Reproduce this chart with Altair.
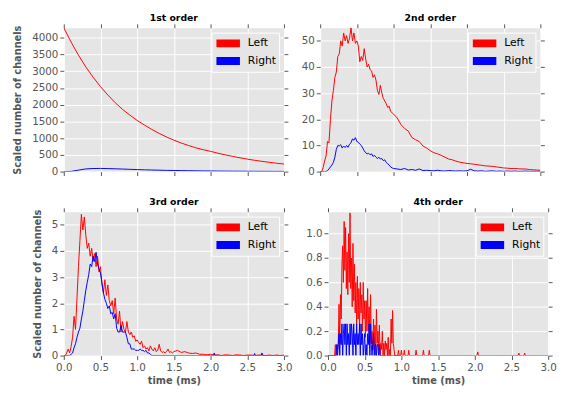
import altair as alt
import pandas as pd

# ---------------- data ----------------
SERIES = ["Left", "Right"]
COLORS = ["#FF0000", "#0000FF"]
X_TICKS = [0.0, 0.5, 1.0, 1.5, 2.0, 2.5, 3.0]

# 1st order, t = 0.0 .. 3.0 step 0.1
R1 = [4300, 3870, 3480, 3130, 2820, 2540, 2290, 2060, 1860, 1690, 1530, 1390, 1260, 1140,
      1035, 940, 855, 780, 710, 655, 605, 550, 500, 455, 412, 373, 338, 306, 277, 250, 226]
B1 = [0, 5, 45, 80, 92, 95, 90, 84, 76, 68, 60, 53, 47, 42, 37, 33, 29, 26, 23, 20, 18,
      16, 14, 12, 11, 10, 9, 8, 7, 6, 5]

# 2nd order: A = 0.00..0.98 step 0.02, B = 1.00..3.00 step 0.05
R2_A = [0, 0, 1.5, 4, 6, 11.5, 11, 20, 27, 31, 36, 38, 44, 45, 50, 48, 53, 50, 52, 49,
        51, 55, 50, 53, 49, 50, 48, 42, 44, 42.5, 47, 43, 40, 41, 39, 38.5, 36, 37, 35, 31,
        29.5, 33, 30, 28, 27, 26, 24.5, 25, 23, 22.5]
R2_B = [22, 20.5, 18, 16.5, 15.5, 13, 12.2, 11.5, 9.8, 9, 8, 7.2, 6.8, 6.2, 5.5, 4.8, 4.5,
        4, 3.6, 3.4, 3.1, 3, 2.8, 2.6, 2.4, 2.2, 2.1, 2, 1.8, 1.6, 1.4, 1.3, 1.2, 1.2, 1.1,
        1.0, 1.0, 0.8, 0.7, 0.6, 0.5]
B2_A = [0, 0, 0, 0, 0, 0.4, 1, 1.8, 2.5, 3.5, 5.5, 8.5, 10, 9.8, 10.3, 9, 9.8, 9.2, 10, 9.3,
        10.5, 11, 12.5, 12, 13, 11.5, 11.2, 10.5, 10, 9, 8, 7.2, 6.8, 7, 6.4, 6.8, 5.8, 6.2,
        5.5, 5, 5.5, 4.8, 5, 4.2, 4.5, 3.5, 3, 2.5, 1.8, 1.4]
B2_B = [1.2, 1.0, 0.8, 1.2, 0.6, 0.8, 0.5, 1.0, 0.4, 0.5, 0.4, 0.3, 0.5, 0.3, 0.2, 0.4, 0.3,
        0.2, 0.3, 0.2, 0.3, 0.9, 0.3, 0.2, 0.3, 0.1, 0.2, 0.3, 0.1, 0.2, 0.1, 0.2, 0.1, 0.2,
        0.1, 0.1, 0.2, 0.1, 0.1, 0.1, 0.1]

# 3rd order: A = 0.00..1.48 step 0.02, B = 1.50..3.00 step 0.05
R3_A = [0, 0, 0.1, 0.25, 0.1, 0.35, 0.7, 1.5, 1.0, 2.2, 3.4, 4.4, 5.4, 4.8, 5.3, 4.6, 4.1,
        4.3, 3.8, 4.1, 3.6, 3.9, 3.4, 3.8, 3.2, 3.4, 2.7, 2.4, 2.9, 2.3, 2.7, 2.1, 1.9, 2.1,
        1.6, 2.2, 1.4, 1.2, 1.7, 0.9, 1.3, 1.0, 0.9, 1.3, 0.9, 0.8, 0.9, 0.7, 0.75, 0.55,
        0.6, 0.5, 0.43, 0.55, 0.3, 0.37, 0.25, 0.3, 0.18, 0.37, 0.25, 0.18, 0.3, 0.15, 0.2,
        0.43, 0.18, 0.12, 0.15, 0.1, 0.15, 0.25, 0.12, 0.15, 0.1]
R3_B = [0.15, 0.2, 0.12, 0.15, 0.1, 0.08, 0.1, 0.05, 0.05, 0.03, 0.05, 0.02, 0.03, 0, 0.03,
        0.02, 0, 0.03, 0.02, 0, 0.02, 0.02, 0, 0.02, 0.02, 0, 0.02, 0, 0.02, 0, 0.02]
B3_A = [0, 0, 0, 0, 0, 0.05, 0.1, 0.3, 0.45, 0.7, 0.9, 1.05, 1.4, 1.7, 2.1, 2.5, 2.8, 3.1,
        3.5, 3.4, 3.8, 3.6, 3.95, 3.5, 3.3, 3.15, 2.8, 2.4, 2.15, 2.0, 1.8, 1.9, 1.6, 1.65,
        1.4, 1.6, 1.05, 0.9, 0.9, 1.15, 0.9, 0.9, 0.9, 0.7, 0.45, 0.45, 0.25, 0.25, 0.25,
        0.2, 0.2, 0.2, 0.25, 0.2, 0.2, 0.15, 0.2, 0.1, 0.1, 0.05, 0, 0, 0, 0, 0, 0, 0, 0,
        0, 0, 0, 0, 0, 0, 0]
B3_TAIL_SPIKES = {2.05: 0.1, 2.6: 0.08, 2.7: 0.1}

# 4th order: A = 0.00..0.99 step 0.01, tail 1.00..3.00 step 0.01 (spikes only)
R4_A = [0, 0, 0, 0, 0, 0, 0, 0, 0, 0,
        0.09, 0, 0.09, 0.05, 0.1, 0.42, 0.1, 0.5, 0.3, 0.75,
        0.9, 0.6, 1.1, 0.7, 1.05, 0.55, 0.85, 0.5, 1.0, 0.6,
        1.17, 0.55, 0.8, 0.4, 0.92, 0.45, 0.75, 0.35, 0.6, 0.25,
        0.65, 0.3, 0.55, 0.2, 0.6, 0.35, 0.5, 0.2, 0.6, 0.3,
        0.45, 0.15, 0.45, 0.2, 0.55, 0.2, 0.4, 0.1, 0.5, 0.1,
        0.2, 0.05, 0.3, 0.05, 0.25, 0, 0.38, 0.1, 0.2, 0.05,
        0.25, 0, 0.1, 0.05, 0.2, 0, 0.1, 0, 0.12, 0.05,
        0.1, 0, 0.15, 0, 0.05, 0, 0.3, 0.1, 0.37, 0.1,
        0.05, 0, 0, 0, 0, 0, 0.044, 0, 0, 0]
R4_TAIL_SPIKES = {1.0: 0.044, 1.04: 0.044, 1.1: 0.044, 1.2: 0.044, 1.3: 0.044,
                  1.38: 0.044, 2.04: 0.03, 2.6: 0.02, 2.68: 0.02}
B4_A = [0] * 12 + [
        0.09, 0, 0.09, 0.18, 0, 0.18, 0.09, 0.26, 0, 0.18,
        0.26, 0.09, 0.26, 0, 0.26, 0.09, 0.18, 0, 0.26, 0.09,
        0.26, 0.18, 0, 0.26, 0.09, 0.18, 0, 0.26, 0.09, 0.18,
        0.09, 0.26, 0, 0.26, 0.09, 0.18, 0, 0.09, 0.18, 0,
        0.09, 0, 0.18, 0.09, 0.26, 0, 0.26, 0.09, 0, 0.09,
        0.18, 0, 0.09, 0.09, 0, 0.09, 0.09, 0, 0.09, 0] + [0] * 28


def times(start, step, n):
    return [round(start + i * step, 3) for i in range(n)]


def sparse(start, stop, step, spikes):
    n = int(round((stop - start) / step)) + 1
    ts = times(start, step, n)
    return ts, [spikes.get(t, 0.0) for t in ts]


def frame(parts):
    rows = []
    for s, ts, vs in parts:
        for t, v in zip(ts, vs):
            rows.append({"t": t, "v": v, "s": s})
    return pd.DataFrame(rows)


df1 = frame([("Left", times(0, 0.1, len(R1)), R1), ("Right", times(0, 0.1, len(B1)), B1)])
df2 = frame([
    ("Left", times(0, 0.02, len(R2_A)) + times(1.0, 0.05, len(R2_B)), R2_A + R2_B),
    ("Right", times(0, 0.02, len(B2_A)) + times(1.0, 0.05, len(B2_B)), B2_A + B2_B),
])
b3t, b3v = sparse(1.5, 3.0, 0.01, B3_TAIL_SPIKES)
df3 = frame([
    ("Left", times(0, 0.02, len(R3_A)) + times(1.5, 0.05, len(R3_B)), R3_A + R3_B),
    ("Right", times(0, 0.02, len(B3_A)) + b3t, B3_A + b3v),
])
r4t, r4v = sparse(1.0, 3.0, 0.01, R4_TAIL_SPIKES)
df4 = frame([
    ("Left", times(0, 0.01, len(R4_A)) + r4t, R4_A + r4v),
    ("Right", times(0, 0.01, len(B4_A)), B4_A),
])

# ---------------- chart ----------------
FONT = "DejaVu Sans"
W, H = 225, 147


def panel(df, title, ymax, yticks, yfmt, bottom, ytitle):
    xs = alt.Scale(domain=[0, 3], nice=False, zero=False, padding=0)
    ys = alt.Scale(domain=[0, ymax], nice=False, padding=0)
    xkw = dict(values=X_TICKS, format=".1f", labels=bottom, tickSize=4, labelPadding=3,
               labelFlush=False, titlePadding=3)
    xkw["title"] = "time (ms)" if bottom else None
    ykw = dict(values=yticks, format=yfmt, tickSize=4, labelFlush=False)
    ykw["title"] = "Scaled number of channels" if ytitle else None

    lines = alt.Chart(df).mark_line(strokeWidth=1, clip=True).encode(
        x=alt.X("t:Q", scale=xs, axis=alt.Axis(**xkw)),
        y=alt.Y("v:Q", scale=ys, axis=alt.Axis(**ykw)),
        color=alt.Color(
            "s:N",
            scale=alt.Scale(domain=SERIES, range=COLORS),
            legend=alt.Legend(
                title=None, orient="top-right", offset=5,
                fillColor="#E5E5E5", strokeColor="white", padding=3,
                symbolType="stroke", symbolSize=576, symbolStrokeWidth=8,
                symbolOffset=-2, clipHeight=16, rowPadding=2,
                symbolOpacity=1, labelFontSize=11, labelColor="black", labelFont=FONT,
                labelOffset=4,
            ),
        ),
    )
    # invisible layer that only carries the frame ticks on the top and right sides
    frame_axes = alt.Chart(df).mark_point(opacity=0, size=1).encode(
        x=alt.X("t:Q", scale=xs, axis=alt.Axis(orient="top", values=X_TICKS, labels=False,
                                                grid=False, title=None, tickSize=4)),
        y=alt.Y("v:Q", scale=ys, axis=alt.Axis(orient="right", values=yticks, labels=False,
                                                grid=False, title=None, tickSize=4)),
    )
    return (
        alt.layer(lines, frame_axes)
        .resolve_axis(x="independent", y="independent")
        .properties(width=W, height=H, title=title)
    )


p1 = panel(df1, "1st order", 4300, list(range(0, 4001, 500)), "d", False, True)
p2 = panel(df2, "2nd order", 55, [0, 10, 20, 30, 40, 50], "d", False, False)
p3 = panel(df3, "3rd order", 5.5, [0, 1, 2, 3, 4, 5], "d", True, True)
p4 = panel(df4, "4th order", 1.18, [0, 0.2, 0.4, 0.6, 0.8, 1.0], ".1f", True, False)

row1 = alt.hconcat(p1, p2, spacing=12).resolve_scale(color="independent")
row2 = alt.hconcat(p3, p4, spacing=12).resolve_scale(color="independent")

chart = (
    alt.vconcat(row1, row2, spacing=19)
    .resolve_scale(color="independent")
    .properties(padding={"left": 4, "top": 0, "right": 0, "bottom": 0})
    .configure_view(fill="#E5E5E5", stroke="transparent")
    .configure_axis(
        domain=False, grid=True, gridColor="white", gridWidth=1,
        tickColor="#555555", labelColor="#555555", labelFont=FONT, labelFontSize=10.5,
        titleFont=FONT, titleFontSize=10, titleFontWeight="bold", titleColor="#555555",
        labelPadding=2, titlePadding=6,
    )
    .configure_axisY(titlePadding=9)
    .configure_title(font=FONT, fontSize=9.5, fontWeight="bold", color="black", offset=1)
)

chart.save("out.html", embed_options={"renderer": "svg", "actions": False})
